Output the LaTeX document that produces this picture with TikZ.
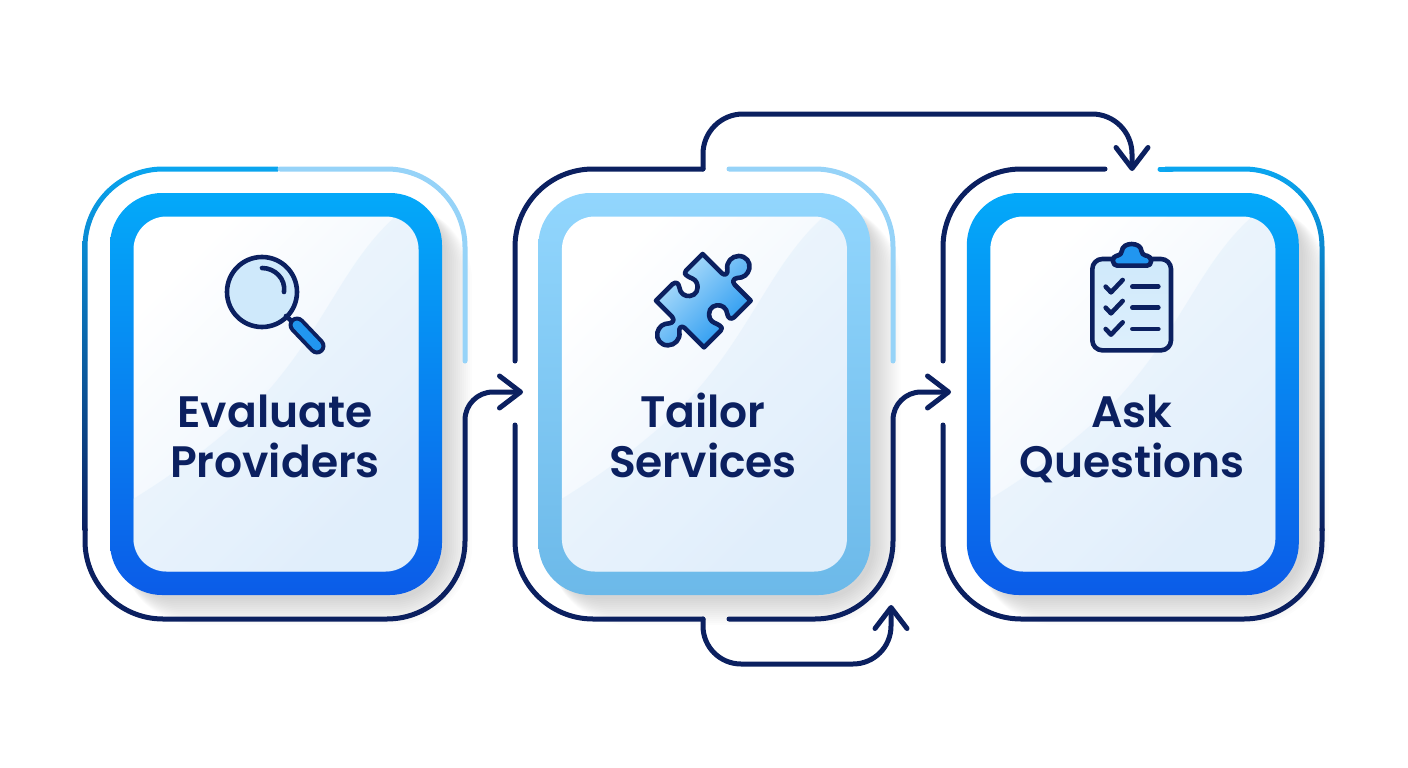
\documentclass[tikz,border=0pt]{standalone}
\usepackage{fontspec}
\usetikzlibrary{positioning,arrows.meta,backgrounds}
\newfontfamily\titlefont{Poppins SemiBold}
\definecolor{navy}{HTML}{0B2060}
\definecolor{linecyan}{HTML}{0AA8F2}
\definecolor{linelight}{HTML}{96D3F8}
\definecolor{bandtop}{HTML}{04A9F9}
\definecolor{bandbot}{HTML}{0B5CE8}
\definecolor{softtop}{HTML}{92D6FD}
\definecolor{softbot}{HTML}{6CB9E9}
\definecolor{panelbot}{HTML}{E6F1FC}
\definecolor{sheen}{HTML}{D3E8FA}
\definecolor{iconlight}{HTML}{CFE9FB}
\definecolor{iconmid}{HTML}{B5E0FB}
\definecolor{iconblue}{HTML}{2196F0}

\begin{document}
\begin{tikzpicture}[x=1pt,y=-1pt]
	\tikzstyle{band}=[rectangle, rounded corners=52pt, minimum width=332pt, minimum height=402pt, top color=bandtop, bottom color=bandbot]
	\tikzstyle{softband}=[band, top color=softtop, bottom color=softbot]
	\tikzstyle{panel}=[rectangle, rounded corners=33pt, minimum width=285pt, minimum height=355pt, top color=white, bottom color=panelbot, shading angle=45]
	\tikzstyle{title}=[font=\titlefont\fontsize{44}{50}\selectfont, text=navy, align=center, anchor=base]
	\tikzstyle{line}=[line width=5pt, line cap=round, line join=round]
	\tikzstyle{connect}=[line, draw=navy, -{Straight Barb[length=21pt,width=32pt,round]}]
	\tikzstyle{icon}=[line width=4.6pt, draw=navy, line cap=round, line join=round]
	\useasboundingbox (0,0) rectangle (1408,768);

	% cards
	\node[band] (bandA) at (276,394) {};
	\node[softband] (bandB) [right=96pt of bandA] {};
	\node[band] (bandC) [right=96pt of bandB] {};
	\node[panel] (panelA) at (bandA) {};
	\node[panel] (panelB) at (bandB) {};
	\node[panel] (panelC) at (bandC) {};
	\begin{scope}[on background layer]
		\foreach \b in {bandA,bandB,bandC}
			\foreach \s in {2,4,...,28}
				\fill[black, opacity=0.012, rounded corners={52+\s}] ([xshift=10pt,yshift=-10pt]\b.north west) rectangle ([xshift={2+\s},yshift={-2-\s}]\b.south east);
	\end{scope}
	% sheen on the panels
	\foreach \p in {panelA,panelB,panelC} {
		\begin{scope}
			\clip[rounded corners=33pt] (\p.north west) rectangle (\p.south east);
			\fill[sheen, opacity=0.3, shift={(\p.center)}] (120,-178) .. controls (65,-130) and (45,-55) .. (-25,15) .. controls (-60,50) and (-110,85) .. (-143,105) -- (-143,178) -- (143,178) -- (143,-178) -- cycle;
		\end{scope}
	}

	\node[title] (evaluate) at (275,477) {Evaluate\\Providers};
	\node[title] (tailor) at (703,477) {Tailor\\Services};
	\node[title] (ask) at (1132,477) {Ask\\Questions};

	% outline of the first card
	\begin{scope}[even odd rule]
		\clip[rounded corners=80.5pt] (82.5,166.5) rectangle (467.5,621.5) [rounded corners=75.5pt] (87.5,171.5) rectangle (462.5,616.5);
		\shade[top color=linecyan, bottom color=navy] (70,160) rectangle (278,530);
	\end{scope}
	\draw[line, draw=linelight, rounded corners=78pt] (280,169) -- (465,169) -- (465,361);
	\coordinate (cornerA) at (465,619);
	\coordinate (startA) at (85,529);
	\coordinate (bendA) at (465,392);
	\coordinate (tipA) at (523,392);
	\draw[connect] (startA) [rounded corners=78pt] -- (85,619) -- (cornerA) [rounded corners=28pt] -- (bendA) -- (tipA);

	% outline of the second card
	\draw[line, draw=navy, rounded corners=78pt] (515,361) -- (515,169) -- (703,169);
	\draw[line, draw=navy, rounded corners=78pt] (515,425) -- (515,619) -- (703,619);
	\draw[line, draw=linelight, rounded corners=78pt] (729,169) -- (893,169) -- (893,361);
	\coordinate (startB) at (729,619);
	\coordinate (tipB) at (951,392);
	\draw[connect] (startB) [rounded corners=78pt] -- (893,619) [rounded corners=28pt] -- (893,392) -- (tipB);

	% long way round
	\coordinate (topstart) at (703,169);
	\coordinate (toptip) at (1132,171);
	\draw[connect, rounded corners=40pt] (topstart) -- (703,114) -- (1132,114) -- (toptip);
	\coordinate (lowstart) at (703,619);
	\coordinate (lowtip) at (891,605);
	\draw[connect, rounded corners=38pt] (lowstart) -- (703,664) -- (891,664) -- (lowtip);

	% outline of the third card
	\draw[line, draw=navy, rounded corners=78pt] (943,361) -- (943,169) -- (1105,169);
	\draw[line, draw=linecyan] (1160,169) -- (1172,169);
	\begin{scope}[even odd rule]
		\clip[rounded corners=80.5pt] (940.5,166.5) rectangle (1324.5,621.5) [rounded corners=75.5pt] (945.5,171.5) rectangle (1319.5,616.5);
		\shade[top color=linecyan, bottom color=navy] (1165,160) rectangle (1335,530);
	\end{scope}
	\draw[line, draw=navy, rounded corners=78pt] (1322,529) -- (1322,619) -- (943,619) -- (943,425);

	% magnifier
	\draw[icon, fill=iconlight] (262,292) circle (35);
	\draw[icon] (262,268) .. controls (275,268) and (286,279) .. (284,292);
	\draw[icon] (286,316) -- (298,327);
	\draw[line width=17pt, draw=navy, line cap=round] (297,325) -- (317,346);
	\draw[line width=9pt, draw=iconblue, line cap=round] (297,325) -- (317,346);

	% puzzle piece
	\begin{scope}[shift={(640,240)}, x=0.3333pt, y=-0.3333pt]
		\draw[icon, top color=iconmid, bottom color=iconblue, shading angle=45] (188,42) -- (246,100)
		.. controls (256,108) and (264,102) .. (262,88) .. controls (258,66) and (276,48) .. (296,48)
		.. controls (318,48) and (332,66) .. (328,86) .. controls (324,104) and (310,114) .. (292,114)
		.. controls (280,116) and (276,124) .. (284,134) -- (332,182) -- (282,232)
		.. controls (272,240) and (264,234) .. (262,222) .. controls (260,204) and (246,194) .. (230,196)
		.. controls (212,198) and (202,216) .. (210,236) .. controls (215,248) and (230,250) .. (238,256)
		.. controls (246,262) and (248,266) .. (242,272) -- (192,322) -- (134,264)
		.. controls (124,256) and (116,262) .. (118,276) .. controls (122,298) and (104,316) .. (84,316)
		.. controls (62,316) and (48,298) .. (52,278) .. controls (56,260) and (70,250) .. (88,250)
		.. controls (100,248) and (104,240) .. (96,230) -- (48,182) -- (98,132)
		.. controls (108,124) and (116,130) .. (118,142) .. controls (120,160) and (134,170) .. (150,168)
		.. controls (168,166) and (178,148) .. (170,128) .. controls (165,116) and (150,114) .. (142,108)
		.. controls (134,102) and (132,98) .. (138,92) -- cycle;
	\end{scope}

	% clipboard
	\begin{scope}[shift={(1075,235)}, x=0.3333pt, y=-0.3333pt]
		\draw[icon, rounded corners=10pt, top color=iconlight, bottom color=iconlight!70!white] (52,72) rectangle (288,346);
		\draw[icon, fill=iconblue, rounded corners=4pt] (115,92) -- (113,64) -- (140,60) .. controls (142,20) and (198,20) .. (200,60) -- (228,64) -- (228,92) -- cycle;
		\foreach \r in {155,218,282} {
			\draw[icon] (92,\r) -- (108,\r+17) -- (143,\r-20);
			\draw[icon] (172,\r) -- (250,\r);
		}
	\end{scope}
\end{tikzpicture}
\end{document}
